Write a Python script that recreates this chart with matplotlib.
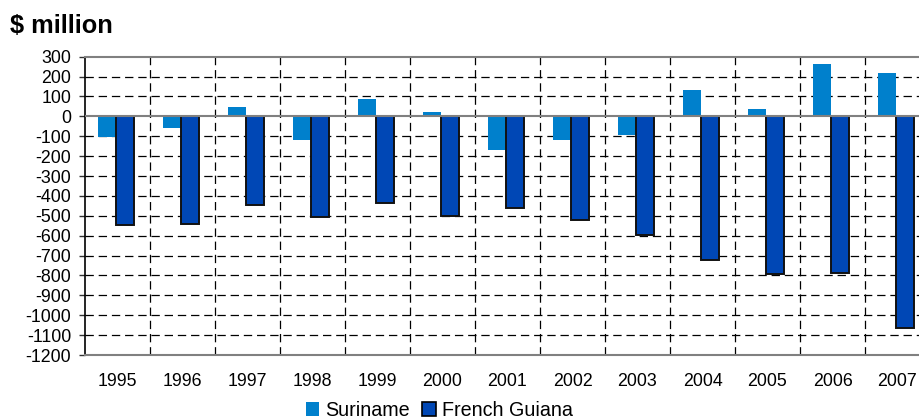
import matplotlib
matplotlib.use("Agg")
import matplotlib.pyplot as plt
import numpy as np
from matplotlib.patches import Patch

plt.rcParams['font.family'] = ['Liberation Sans', 'DejaVu Sans']
plt.rcParams['lines.scale_dashes'] = False

years = ['1995', '1996', '1997', '1998', '1999', '2000', '2001',
         '2002', '2003', '2004', '2005', '2006', '2007']
suriname = [-105, -60, 45, -120, 85, 20, -170, -120, -95, 135, 35, 265, 220]
french_guiana = [-545, -540, -445, -505, -437, -503, -462, -520, -595,
                 -720, -795, -790, -1065]
y_ticks = list(range(-1200, 301, 100))

col_sur = '#0080CC'
col_fg = '#0047B5'

fig = plt.figure(figsize=(9.2, 4.19), dpi=100)
ax = fig.add_axes([85 / 920, 1 - 355 / 419, 845 / 920, (355 - 56.7) / 419])

x = np.arange(len(years))
w = 0.28
ax.bar(x - 0.16, suriname, width=w, color=col_sur, linewidth=0, zorder=3)
ax.bar(x + 0.12, french_guiana, width=w, color=col_fg, edgecolor='#111111',
       linewidth=1.4, zorder=3)

ax.set_xlim(-0.5, len(years) - 0.5)
ax.set_ylim(-1200, 300)
ax.set_yticks(y_ticks)
ax.set_yticklabels([str(v) for v in y_ticks])
ax.set_xticks(x)
ax.set_xticklabels(years)

ax.tick_params(axis='y', which='major', length=4, width=1, color='#333333',
               pad=6, labelsize=12.8)
ax.tick_params(axis='x', which='both', length=0, pad=13, labelsize=12.8)

dash = (0, (6, 3.5))
for v in y_ticks[:-1]:
    if v != 0:
        ax.axhline(v, color='black', lw=0.9, linestyle=dash, zorder=1)
for b in np.arange(0.5, len(years) - 0.5, 1.0):
    ax.axvline(b, color='black', lw=0.9, linestyle=dash, zorder=1)
ax.axhline(0, color='#808080', lw=1.5, zorder=4)

for s in ['top', 'bottom']:
    ax.spines[s].set_color('#808080')
    ax.spines[s].set_linewidth(1.5)
ax.spines['left'].set_color('black')
ax.spines['left'].set_linewidth(1.2)
ax.spines['right'].set_visible(False)

fig.text(10 / 920, 1 - 26 / 419, '$ million', fontsize=18.3, fontweight='bold',
         ha='left', va='center')

handles = [Patch(facecolor=col_sur, edgecolor='none', label='Suriname'),
           Patch(facecolor=col_fg, edgecolor='black', linewidth=1.2,
                 label='French Guiana')]
fig.legend(handles=handles, loc='center', bbox_to_anchor=(439 / 920, 1 - 410 / 419),
           ncol=2, frameon=False, fontsize=14.2, handlelength=0.7,
           handleheight=0.7, handletextpad=0.3, columnspacing=0.6,
           borderpad=0, borderaxespad=0)

fig.savefig('out.png', dpi=100)
